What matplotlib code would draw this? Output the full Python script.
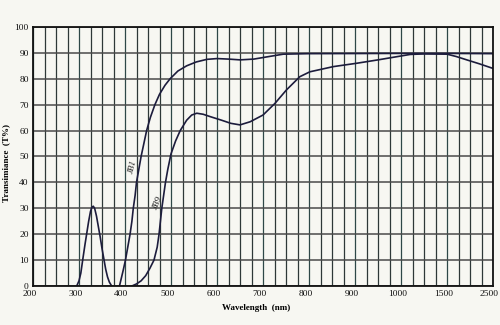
import numpy as np
import matplotlib
matplotlib.use("Agg")
import matplotlib.pyplot as plt
from matplotlib.ticker import FixedLocator, NullFormatter
from matplotlib.transforms import ScaledTranslation

# axis breaks: linear to 1000 nm, then one step to 1500 and one to 2500
x_breaks_nm = [200, 1000, 1500, 2500]
x_breaks_pos = [0, 8, 9, 10]
x_tick_values = [200, 300, 400, 500, 600, 700, 800, 900, 1000, 1500, 2500]
y_tick_values = [0, 10, 20, 30, 40, 50, 60, 70, 80, 90, 100]

# UV peak
peak_nm = [295, 300, 304, 308, 313, 317, 321, 325, 328, 331, 334, 338, 342, 346, 350, 354, 358, 362, 366, 371]
peak_t = [0, 2, 5, 10, 16, 20.5, 25, 28.8, 30.4, 30.8, 30, 27, 23, 19, 14.5, 10.5, 6.5, 3.5, 1.5, 0]

# JB1
jb1_nm = [388, 392, 396, 401, 406, 411, 415, 418, 422, 425, 430, 435, 441, 447, 455, 465, 475,
          487, 498, 515, 534, 555, 578, 600, 625, 650, 680, 710, 744, 800, 1000, 1500, 2500]
jb1_t = [0, 3, 6, 10, 15, 20, 25, 30, 35, 40, 45, 50, 55, 60, 65, 70, 74,
         77.5, 80, 83, 85, 86.5, 87.5, 87.8, 87.6, 87.3, 87.6, 88.5, 89.5, 89.7, 89.8, 89.8, 89.7]

# JB9
jb9_nm = [415, 425, 435, 445, 454, 463, 470, 474, 477, 480, 484, 488, 493, 500, 510, 520, 534,
          545, 556, 570, 585, 610, 630, 650, 672, 700, 726, 751, 780, 802, 853, 904, 950,
          1000, 1100, 1250, 1500, 1700, 1930, 2200, 2500]
jb9_t = [0, 0.8, 2, 4, 6.8, 10, 15, 20, 25, 30, 35, 40, 45, 51, 56, 60, 64,
         66, 66.7, 66.3, 65.4, 64, 62.8, 62.2, 63.4, 66, 70.5, 75.7, 80.8, 82.7, 84.7, 86, 87.3,
         88.8, 89.4, 89.6, 89.5, 88.6, 87.3, 85.8, 84]


def forward(x):
    return np.interp(x, x_breaks_nm, x_breaks_pos)


def inverse(p):
    return np.interp(p, x_breaks_pos, x_breaks_nm)


bg = "#f7f7f2"
line_col = "#1c1c3c"

fig = plt.figure(figsize=(5, 3.25), dpi=100, facecolor=bg)
ax = fig.add_axes([0.066, 0.12, 0.92, 0.797])
ax.set_facecolor(bg)
ax.set_xscale("function", functions=(forward, inverse))
ax.set_xlim(200, 2500)
ax.set_ylim(0, 100)

# vertical grid every quarter step
minor = list(np.arange(200, 1000, 25)) + [1000, 1125, 1250, 1375, 1500, 1750, 2000, 2250, 2500]
ax.xaxis.set_major_locator(FixedLocator(x_tick_values))
ax.xaxis.set_minor_locator(FixedLocator(minor))
ax.xaxis.set_minor_formatter(NullFormatter())
ax.set_xticklabels([str(v) for v in x_tick_values])
ax.set_yticks(y_tick_values)
ax.grid(True, which="minor", axis="x", color="#2e3838", lw=0.9)
ax.grid(True, which="major", axis="x", color="#2e4848", lw=0.9)
ax.grid(True, which="major", axis="y", color="#4a4a4a", lw=1.1)
ax.set_axisbelow(True)

ax.plot(peak_nm, peak_t, color=line_col, lw=1.2)
ax.plot(jb1_nm, jb1_t, color=line_col, lw=1.2)
ax.plot(jb9_nm, jb9_t, color=line_col, lw=1.2)

ax.text(417, 46, "JB1", rotation=76, ha="center", va="center", fontsize=6.5,
        family="Liberation Serif", style="italic", color="#222")
ax.text(471, 32, "JB9", rotation=68, ha="center", va="center", fontsize=6.5,
        family="Liberation Serif", style="italic", color="#222")

for s in ax.spines.values():
    s.set_linewidth(1.3)
    s.set_color("#111")

ax.tick_params(which="both", length=0, labelsize=6.8, pad=3, colors="#111")
shift = ScaledTranslation(-0.035, 0, fig.dpi_scale_trans)
for lbl in ax.get_xticklabels():
    lbl.set_family("Liberation Serif")
    lbl.set_transform(lbl.get_transform() + shift)
for lbl in ax.get_yticklabels():
    lbl.set_family("Liberation Serif")

ax.set_xlabel("Wavelength  (nm)", fontsize=6.5, family="Liberation Serif",
              fontweight="bold", labelpad=4, x=0.485)
ax.set_ylabel("Transimiance  (T%)", fontsize=6.5, family="Liberation Serif",
              fontweight="bold")
ax.yaxis.set_label_coords(-0.05, 0.475)

fig.savefig("out.png", dpi=100, facecolor=bg)
